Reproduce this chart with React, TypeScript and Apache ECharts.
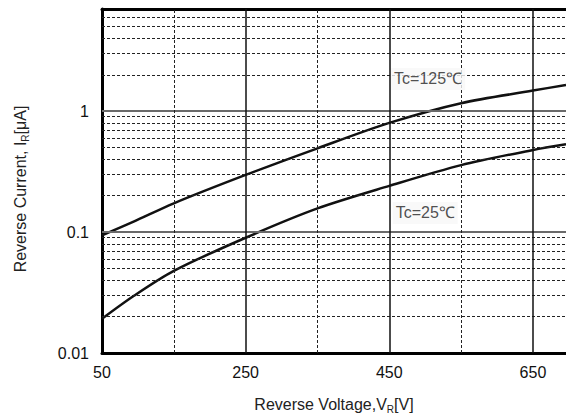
import React, { useEffect, useRef } from "react";
import * as echarts from "echarts";

// ---- data ----
const VOLTAGE = [50, 94, 150, 250, 350, 450, 550, 650, 696];
const TC125 = [0.094, 0.122, 0.173, 0.297, 0.493, 0.8, 1.165, 1.48, 1.65];
const TC25 = [0.0192, 0.0296, 0.0478, 0.0898, 0.157, 0.241, 0.358, 0.477, 0.532];

const X_TICKS = [50, 250, 450, 650];
const Y_TICKS = [0.01, 0.1, 1];
const Y_TICK_LABELS = ["0.01", "0.1", "1"];

const Y_MINOR = [
  0.02, 0.03, 0.04, 0.05, 0.06, 0.07, 0.08, 0.09,
  0.2, 0.3, 0.4, 0.5, 0.6, 0.7, 0.8, 0.9,
  2, 3, 4, 5, 6,
];
const Y_MAJOR = [0.1, 1];
const X_MINOR = [150, 350, 550];
const X_MAJOR = [250, 450, 650];

const CURVE_LABELS = ["Tc=125℃", "Tc=25℃"];
const LABEL_POS: [number, number][] = [
  [504, 1.85],
  [500, 0.144],
];

const FONT = "'Liberation Sans', Arial, sans-serif";

export default function App() {
  const ref = useRef<HTMLDivElement>(null);

  useEffect(() => {
    if (!ref.current) return;
    const chart = echarts.init(ref.current, undefined, { renderer: "svg" });

    const dashed = { color: "#222", width: 1, type: [3, 2] as any };
    const gridLines = [
      ...Y_MINOR.map((v) => ({ yAxis: v, lineStyle: dashed })),
      ...Y_MAJOR.map((v) => ({ yAxis: v, lineStyle: { color: "#6a6a6a", width: 2, type: "solid" } })),
      ...X_MINOR.map((v) => ({ xAxis: v, lineStyle: dashed })),
      ...X_MAJOR.map((v) => ({ xAxis: v, lineStyle: { color: "#111", width: 1.5, type: "solid" } })),
    ];

    const option: any = {
      animation: false,
      backgroundColor: "#fff",
      textStyle: { fontFamily: FONT },
      grid: {
        left: 102,
        right: 0,
        top: 9,
        bottom: 65,
        containLabel: false,
        outerBoundsMode: "none",
      },
      xAxis: [
        {
          type: "value",
          min: 50,
          max: 696,
          interval: 200,
          position: "bottom",
          axisLine: { show: true, lineStyle: { color: "#000", width: 3 } },
          axisTick: { show: false },
          splitLine: { show: false },
          axisLabel: {
            fontSize: 16,
            color: "#111",
            margin: 11,
            fontFamily: FONT,
            formatter: (v: number) => (X_TICKS.includes(v) ? String(v) : ""),
          },
          name: "{n|Reverse Voltage,V}{s|R}{n|[V]}",
          nameLocation: "middle",
          nameGap: 41,
          nameTextStyle: {
            rich: {
              n: { fontSize: 16, color: "#222", fontFamily: FONT, lineHeight: 20, verticalAlign: "middle" },
              s: { fontSize: 10, color: "#222", fontFamily: FONT, lineHeight: 10, verticalAlign: "bottom" },
            },
          },
        },
        {
          type: "value",
          min: 50,
          max: 696,
          position: "top",
          axisLine: { show: true, lineStyle: { color: "#000", width: 3 } },
          axisTick: { show: false },
          axisLabel: { show: false },
          splitLine: { show: false },
        },
      ],
      yAxis: {
        type: "log",
        logBase: 10,
        min: 0.01,
        max: 7,
        axisLine: { show: true, lineStyle: { color: "#000", width: 3 } },
        axisTick: { show: false },
        splitLine: { show: false },
        minorSplitLine: { show: false },
        axisLabel: {
          fontSize: 16,
          color: "#111",
          margin: 13,
          fontFamily: FONT,
          formatter: (v: number) => {
            const i = Y_TICKS.findIndex((t) => Math.abs(Math.log10(v) - Math.log10(t)) < 1e-6);
            return i >= 0 ? Y_TICK_LABELS[i] : "";
          },
        },
      },
      graphic: [
        {
          type: "text",
          x: 20,
          y: 189,
          rotation: Math.PI / 2,
          style: {
            text: "{n|Reverse Current, I}{s|R}{n|[μA]}",
            align: "center",
            verticalAlign: "middle",
            fontFamily: FONT,
            rich: {
              n: { fontSize: 16, fill: "#222", fontFamily: FONT, lineHeight: 20, verticalAlign: "middle" },
              s: { fontSize: 10, fill: "#222", fontFamily: FONT, lineHeight: 10, verticalAlign: "bottom" },
            },
          },
        },
      ],
      series: [
        {
          type: "line",
          name: "grid",
          data: [],
          z: 1,
          silent: true,
          markLine: {
            silent: true,
            symbol: ["none", "none"],
            label: { show: false },
            data: gridLines,
          },
        },
        {
          type: "line",
          name: CURVE_LABELS[0],
          data: VOLTAGE.map((x, i) => [x, TC125[i]]),
          smooth: 0.3,
          showSymbol: false,
          lineStyle: { color: "#111", width: 2.5 },
          z: 3,
        },
        {
          type: "line",
          name: CURVE_LABELS[1],
          data: VOLTAGE.map((x, i) => [x, TC25[i]]),
          smooth: 0.3,
          showSymbol: false,
          lineStyle: { color: "#111", width: 2.5 },
          z: 3,
        },
        {
          type: "scatter",
          data: LABEL_POS.map((p, i) => ({ value: p, name: CURVE_LABELS[i] })),
          symbolSize: 0,
          z: 10,
          silent: true,
          label: {
            show: true,
            position: "inside",
            formatter: (p: any) => p.name,
            fontSize: 16,
            color: "#222",
            fontFamily: FONT,
            backgroundColor: "#f7f7f7",
            padding: [3, 3, 3, 3],
          },
        },
      ],
    };

    chart.setOption(option);
    return () => chart.dispose();
  }, []);

  return (
    <div
      ref={ref}
      style={{ position: "absolute", left: 0, top: 0, width: 566, height: 418 }}
    />
  );
}
